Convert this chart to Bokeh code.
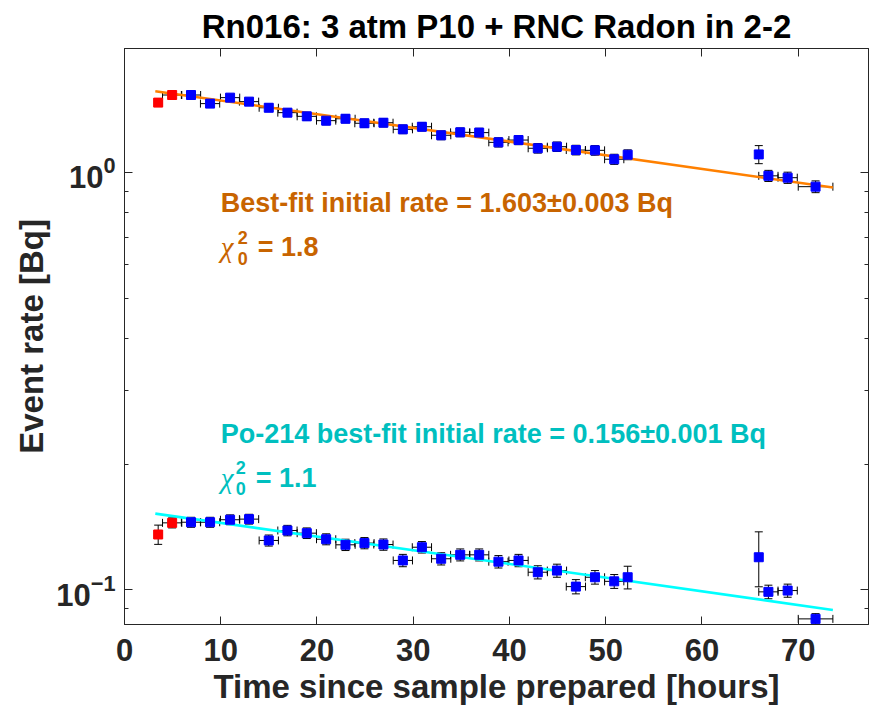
from bokeh.plotting import figure
from bokeh.models import (Range1d, FixedTicker, Whisker, ColumnDataSource, Label,
                          LinearAxis, LogAxis, TeeHead)
from bokeh.embed import file_html
from bokeh.resources import INLINE
import numpy as np

# ---- measured rates, 2-hour bins -------------------------------------------
hours = [3.5, 4.95, 6.91, 8.89, 10.97, 12.94, 14.99, 16.93, 18.94, 20.95,
         22.96, 24.93, 26.9, 28.92, 30.9, 32.9, 34.88, 36.85, 38.85, 40.94,
         42.94, 44.93, 46.9, 48.88, 50.88, 52.28, 65.9, 66.9, 68.9, 71.8]
hours_err = [0.4, 1.0, 1.0, 1.0, 1.0, 1.0, 1.0, 1.0, 1.0, 1.0,
             1.0, 1.0, 1.0, 1.0, 1.0, 1.0, 1.0, 1.0, 1.0, 1.0,
             1.0, 1.0, 1.0, 1.0, 1.0, 0.0, 0.0, 1.0, 1.0, 1.8]

# total event rate [Bq]
total_rate = [1.469, 1.532, 1.532, 1.461, 1.51, 1.477, 1.428, 1.39, 1.362, 1.33,
              1.344, 1.311, 1.315, 1.268, 1.286, 1.227, 1.247, 1.245, 1.18, 1.195,
              1.142, 1.152, 1.131, 1.129, 1.075, 1.102, 1.104, 0.981, 0.971, 0.924]
total_err = [0.030, 0.030, 0.030, 0.030, 0.030, 0.030, 0.030, 0.030, 0.030, 0.030,
             0.030, 0.030, 0.030, 0.030, 0.030, 0.030, 0.030, 0.030, 0.030, 0.030,
             0.030, 0.030, 0.030, 0.030, 0.030, 0.030, 0.055, 0.030, 0.030, 0.030]

# Po-214 event rate [Bq]
po214_rate = [0.1357, 0.1447, 0.1452, 0.1452, 0.1472, 0.1477, 0.1313, 0.1387, 0.1367, 0.1322,
              0.1282, 0.1294, 0.1284, 0.1176, 0.1265, 0.1187, 0.1213, 0.1213, 0.1168, 0.1176,
              0.1102, 0.1112, 0.1018, 0.1072, 0.1048, 0.1072, 0.1197, 0.0989, 0.0996, 0.0852]
po214_err = [0.0072, 0.0040, 0.0040, 0.0040, 0.0040, 0.0040, 0.0040, 0.0040, 0.0040, 0.0040,
             0.0040, 0.0040, 0.0040, 0.0040, 0.0040, 0.0040, 0.0040, 0.0040, 0.0040, 0.0040,
             0.0040, 0.0040, 0.0040, 0.0040, 0.0040, 0.0067, 0.0180, 0.0037, 0.0036, 0.0025]

# bins left out of the fit (drawn in red)
n_excluded = 2

# fit results: A0 * exp(-lambda t), Rn-222 half-life 91.8 h
total_A0 = 1.603
po214_A0 = 0.156
rn222_half_life_h = 91.8
fit_hours = [3.2, 73.6]
chi2_total = "1.8"
chi2_po214 = "1.1"

x_ticks = [0, 10, 20, 30, 40, 50, 60, 70]
y_ticks = [0.1, 1.0]
y_minor = [0.09, 0.2, 0.3, 0.4, 0.5, 0.6, 0.7, 0.8, 0.9]

# ---- figure ----------------------------------------------------------------
AX = "#262626"
FONT = "Liberation Sans"

p = figure(width=875, height=713, x_range=Range1d(0, 77.3), y_range=Range1d(0.0826, 1.98),
           y_axis_type="log", output_backend="svg", toolbar_location=None,
           min_border_left=124, min_border_right=7, min_border_top=48, min_border_bottom=89,
           title="Rn016: 3 atm P10 + RNC Radon in 2-2")
p.grid.visible = False
p.background_fill_color = "white"
p.border_fill_color = "white"
p.outline_line_color = AX
p.outline_line_width = 1

p.title.align = "center"
p.title.text_font = FONT
p.title.text_font_size = "33px"
p.title.text_font_style = "bold"
p.title.text_color = "black"
p.title.standoff = 7
p.title.offset = 0


def style_axis(ax, labelled):
    ax.axis_line_color = AX
    ax.major_tick_line_color = AX
    ax.minor_tick_line_color = AX
    ax.major_tick_in = 8
    ax.major_tick_out = 0
    ax.minor_tick_in = 4
    ax.minor_tick_out = 0
    ax.major_label_text_font = FONT
    ax.major_label_text_font_style = "bold"
    ax.major_label_text_color = AX
    ax.axis_label_text_font = FONT
    ax.axis_label_text_font_style = "bold"
    ax.axis_label_text_color = AX
    if not labelled:
        # mirrored ticks only: labels kept tiny and transparent
        ax.major_label_text_font_size = "1px"
        ax.major_label_text_alpha = 0
        ax.major_label_standoff = 0


xt = FixedTicker(ticks=x_ticks, minor_ticks=[])
yt = FixedTicker(ticks=y_ticks, minor_ticks=y_minor)

p.xaxis.ticker = xt
p.yaxis.ticker = yt
style_axis(p.xaxis[0], True)
style_axis(p.yaxis[0], True)
p.xaxis.axis_label = "Time since sample prepared [hours]"
p.yaxis.axis_label = "Event rate [Bq]"
p.xaxis.major_label_text_font_size = "31px"
p.yaxis.major_label_text_font_size = "31px"
p.xaxis.axis_label_text_font_size = "33px"
p.yaxis.axis_label_text_font_size = "33px"
p.xaxis.major_label_standoff = 14
p.yaxis.major_label_standoff = 9
p.xaxis.axis_label_standoff = 4
p.yaxis.axis_label_standoff = 3

top_ax = LinearAxis(ticker=xt)
style_axis(top_ax, False)
p.add_layout(top_ax, "above")
right_ax = LogAxis(ticker=yt)
style_axis(right_ax, False)
p.add_layout(right_ax, "right")

# ---- fit curves --------------------------------------------------------------
lam = np.log(2) / rn222_half_life_h
fit_t = np.array(fit_hours)
p.line(fit_t, total_A0 * np.exp(-lam * fit_t), line_color="#FF8000", line_width=2.6)
p.line(fit_t, po214_A0 * np.exp(-lam * fit_t), line_color="#00FFFF", line_width=2.6)

# ---- data with error bars ---------------------------------------------------
t = np.array(hours)
terr = np.array(hours_err)


def series(rate, err):
    r = np.array(rate)
    e = np.array(err)
    ysrc = ColumnDataSource(dict(t=t, lo=r - e, hi=r + e))
    wy = Whisker(source=ysrc, base="t", lower="lo", upper="hi", dimension="height",
                 line_color="black", line_width=1, level="underlay",
                 upper_head=TeeHead(size=8, line_color="black", line_width=1),
                 lower_head=TeeHead(size=8, line_color="black", line_width=1))
    p.add_layout(wy)
    has_x = terr > 0
    xsrc = ColumnDataSource(dict(r=r[has_x], lo=(t - terr)[has_x], hi=(t + terr)[has_x]))
    wx = Whisker(source=xsrc, base="r", lower="lo", upper="hi", dimension="width",
                 line_color="black", line_width=1, level="underlay",
                 upper_head=TeeHead(size=8, line_color="black", line_width=1),
                 lower_head=TeeHead(size=8, line_color="black", line_width=1))
    p.add_layout(wx)
    p.scatter(t[:n_excluded], r[:n_excluded], marker="square", size=9,
              fill_color="#FF0000", line_color="#FF0000")
    p.scatter(t[n_excluded:], r[n_excluded:], marker="square", size=9,
              fill_color="#0000FF", line_color="#0000FF")


series(total_rate, total_err)
series(po214_rate, po214_err)

# ---- fit annotations --------------------------------------------------------


def fit_text(y, color, line1, chi2, dx):
    common = dict(x=10, y=y, text_color=color, text_baseline="alphabetic")
    p.add_layout(Label(text=line1, text_font=FONT, text_font_style="bold",
                       text_font_size="27px", **common))
    p.add_layout(Label(text="\u03c7", text_font="Liberation Serif", text_font_style="italic",
                       text_font_size="29px", y_offset=-44, **common))
    p.add_layout(Label(text="2", text_font=FONT, text_font_style="bold",
                       text_font_size="18px", x_offset=dx, y_offset=-34, **common))
    p.add_layout(Label(text="0", text_font=FONT, text_font_style="bold",
                       text_font_size="18px", x_offset=dx, y_offset=-55, **common))
    p.add_layout(Label(text="= " + chi2, text_font=FONT, text_font_style="bold",
                       text_font_size="27px", x_offset=dx + 20, y_offset=-44, **common))


fit_text(0.844, "#C86400",
         "Best-fit initial rate = %.3f\u00b10.003 Bq" % total_A0, chi2_total, 17)
fit_text(0.2366, "#00BFBF",
         "Po-214 best-fit initial rate = %.3f\u00b10.001 Bq" % po214_A0, chi2_po214, 15)

open("out.html", "w").write(file_html(p, INLINE))
